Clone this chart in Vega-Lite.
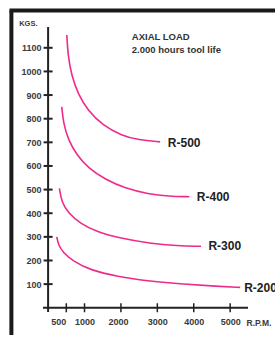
{
  "$schema": "https://vega.github.io/schema/vega-lite/v6.json",
  "width": 205,
  "height": 285,
  "autosize": {"type": "none"},
  "padding": {"left": 43, "top": 27, "right": 27, "bottom": 25},
  "background": "white",
  "config": {
    "view": {"stroke": null},
    "font": "Liberation Sans",
    "axis": {"labelOverlap": false, "labelFlush": false, "format": "d", "grid": false, "domain": false, "ticks": false}
  },
  "datasets": {
    "curves": [
      {"series": "R-500", "rpm": 514, "kg": 1154},
      {"series": "R-500", "rpm": 545, "kg": 1070},
      {"series": "R-500", "rpm": 640, "kg": 985},
      {"series": "R-500", "rpm": 820, "kg": 905},
      {"series": "R-500", "rpm": 1100, "kg": 832},
      {"series": "R-500", "rpm": 1500, "kg": 772},
      {"series": "R-500", "rpm": 2025, "kg": 728},
      {"series": "R-500", "rpm": 2481, "kg": 710},
      {"series": "R-500", "rpm": 3077, "kg": 702},
      {"series": "R-400", "rpm": 376, "kg": 850},
      {"series": "R-400", "rpm": 420, "kg": 780},
      {"series": "R-400", "rpm": 558, "kg": 709},
      {"series": "R-400", "rpm": 788, "kg": 646},
      {"series": "R-400", "rpm": 1107, "kg": 590},
      {"series": "R-400", "rpm": 1566, "kg": 543},
      {"series": "R-400", "rpm": 2115, "kg": 505},
      {"series": "R-400", "rpm": 2755, "kg": 481},
      {"series": "R-400", "rpm": 3305, "kg": 472},
      {"series": "R-400", "rpm": 3880, "kg": 470},
      {"series": "R-300", "rpm": 310, "kg": 505},
      {"series": "R-300", "rpm": 376, "kg": 445},
      {"series": "R-300", "rpm": 558, "kg": 401},
      {"series": "R-300", "rpm": 879, "kg": 357},
      {"series": "R-300", "rpm": 1338, "kg": 321},
      {"series": "R-300", "rpm": 1978, "kg": 294},
      {"series": "R-300", "rpm": 2802, "kg": 272},
      {"series": "R-300", "rpm": 3536, "kg": 262},
      {"series": "R-300", "rpm": 4200, "kg": 260},
      {"series": "R-200", "rpm": 239, "kg": 300},
      {"series": "R-200", "rpm": 283, "kg": 265},
      {"series": "R-200", "rpm": 420, "kg": 232},
      {"series": "R-200", "rpm": 695, "kg": 196},
      {"series": "R-200", "rpm": 1154, "kg": 160},
      {"series": "R-200", "rpm": 1887, "kg": 132},
      {"series": "R-200", "rpm": 2802, "kg": 112},
      {"series": "R-200", "rpm": 3717, "kg": 100},
      {"series": "R-200", "rpm": 4635, "kg": 91},
      {"series": "R-200", "rpm": 5275, "kg": 86}
    ],
    "labels": [
      {"series": "R-500", "rpm": 3288, "kg": 697},
      {"series": "R-400", "rpm": 4085, "kg": 470},
      {"series": "R-300", "rpm": 4404, "kg": 261},
      {"series": "R-200", "rpm": 5385, "kg": 85}
    ],
    "yticks": [
      {"kg": 100}, {"kg": 200}, {"kg": 300}, {"kg": 400}, {"kg": 500}, {"kg": 600},
      {"kg": 700}, {"kg": 800}, {"kg": 900}, {"kg": 1000}, {"kg": 1100}
    ],
    "xticks": [
      {"rpm": 500}, {"rpm": 1000}, {"rpm": 2000}, {"rpm": 3000}, {"rpm": 4000}, {"rpm": 5000}
    ],
    "one": [{}]
  },
  "layer": [
    {
      "data": {"name": "curves"},
      "mark": {"type": "line", "interpolate": "basis", "color": "#ee2b8b", "strokeWidth": 1.6},
      "encoding": {
        "x": {
          "field": "rpm", "type": "quantitative",
          "scale": {"domain": [-140, 5490], "nice": false, "zero": false},
          "axis": {
            "values": [500, 1000, 2000, 3000, 4000, 5000], "tickCount": 20,
            "format": "d", "labelOverlap": false, "labelFlush": false,
            "labelFontSize": 9, "labelFontWeight": "bold", "labelColor": "#3a3a3a",
            "labelPadding": 5,
            "labelOffset": {"expr": "datum.value == 500 ? -8 : datum.value == 2000 ? -3 : 0"},
            "title": "R.P.M.", "titleX": 203, "titleY": 10, "titleAlign": "left",
            "titleBaseline": "middle", "titleFontSize": 8.5, "titleFontWeight": "bold",
            "titleColor": "#3a3a3a"
          }
        },
        "y": {
          "field": "kg", "type": "quantitative",
          "scale": {"domain": [-18, 1188], "nice": false, "zero": false},
          "axis": {
            "values": [100, 200, 300, 400, 500, 600, 700, 800, 900, 1000, 1100], "tickCount": 20,
            "format": "d", "labelOverlap": false, "labelFlush": false,
            "labelFontSize": 9, "labelFontWeight": "bold", "labelColor": "#3a3a3a",
            "labelPadding": 2,
            "title": "KGS.", "titleAngle": 0, "titleX": -6, "titleY": -4,
            "titleAlign": "right", "titleBaseline": "middle", "titleFontSize": 7.5,
            "titleFontWeight": "bold", "titleColor": "#3a3a3a"
          }
        },
        "detail": {"field": "series", "type": "nominal"}
      }
    },
    {
      "data": {"name": "labels"},
      "mark": {"type": "text", "align": "left", "baseline": "middle", "fontSize": 12, "fontWeight": "bold", "color": "#222222"},
      "encoding": {
        "x": {"field": "rpm", "type": "quantitative"},
        "y": {"field": "kg", "type": "quantitative"},
        "text": {"field": "series", "type": "nominal"}
      }
    },
    {
      "data": {"name": "one"},
      "mark": {"type": "text", "align": "left", "baseline": "top", "fontSize": 9.5, "fontWeight": "bold", "color": "#333333", "lineHeight": 13, "text": ["AXIAL LOAD", "2.000 hours tool life"]},
      "encoding": {
        "x": {"datum": 2299, "type": "quantitative"},
        "y": {"datum": 1168, "type": "quantitative"}
      }
    },
    {
      "data": {"name": "one"},
      "mark": {"type": "rule", "color": "#222222", "strokeWidth": 2},
      "encoding": {"x": {"datum": 0, "type": "quantitative"}}
    },
    {
      "data": {"name": "one"},
      "mark": {"type": "rule", "color": "#222222", "strokeWidth": 2},
      "encoding": {"y": {"datum": 0, "type": "quantitative"}}
    },
    {
      "data": {"name": "yticks"},
      "mark": {"type": "tick", "orient": "horizontal", "size": 9, "thickness": 2, "color": "#222222", "opacity": 1},
      "encoding": {
        "x": {"datum": 0, "type": "quantitative"},
        "y": {"field": "kg", "type": "quantitative"}
      }
    },
    {
      "data": {"name": "xticks"},
      "mark": {"type": "tick", "orient": "vertical", "size": 9, "thickness": 1.5, "color": "#222222", "opacity": 1},
      "encoding": {
        "x": {"field": "rpm", "type": "quantitative"},
        "y": {"datum": 0, "type": "quantitative"}
      }
    },
    {
      "data": {"name": "one"},
      "mark": {"type": "rule", "color": "#1a1a1a", "strokeWidth": 4},
      "encoding": {
        "x": {"datum": -1008, "type": "quantitative"},
        "y": {"datum": 1258, "type": "quantitative"},
        "y2": {"datum": -115}
      }
    },
    {
      "data": {"name": "one"},
      "mark": {"type": "rule", "color": "#1a1a1a", "strokeWidth": 4},
      "encoding": {
        "y": {"datum": 1258, "type": "quantitative"},
        "x": {"datum": -1060, "type": "quantitative"},
        "x2": {"datum": 6400}
      }
    }
  ]
}
